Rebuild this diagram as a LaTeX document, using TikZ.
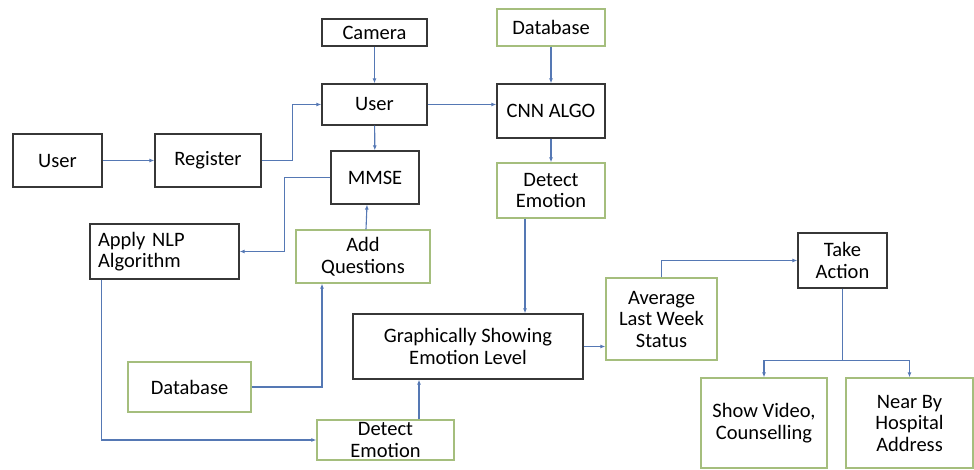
\documentclass[tikz,border=0pt]{standalone}
\usepackage{fontspec}
\setmainfont{Carlito}
\usetikzlibrary{arrows.meta}
\definecolor{boxblack}{RGB}{55,55,55}
\definecolor{boxgreen}{RGB}{165,190,125}
\definecolor{linkblue}{RGB}{85,120,180}

\begin{document}
\begin{tikzpicture}[x=1pt,y=1pt,yscale=-1,xscale=1,
  blk/.style={draw=boxblack,line width=1.3pt,align=center,inner sep=2pt,font=\fontsize{20.5}{21.5}\selectfont},
  grn/.style={blk,draw=boxgreen},
  link/.style={draw=linkblue,line width=1.1pt},
  arr/.style={link,-{Latex[length=5pt,width=4pt]}}]
\useasboundingbox (0,0) rectangle (974,470);

% Boxes
\node [blk,minimum width=89,minimum height=53] (user) at (57.5,160.5) {User};
\node [blk,minimum width=106,minimum height=53] (reg) at (208,160.5) {Register};
\node [blk,minimum width=105,minimum height=27] (cam) at (374.5,32.5) {Camera};
\node [blk,minimum width=105,minimum height=41] (user2) at (374.5,104.5) {User};
\node [blk,minimum width=88,minimum height=53] (mmse) at (375,177.5) {MMSE};
\node [grn,minimum width=108,minimum height=37] (db1) at (551,27.5) {Database};
\node [blk,minimum width=108,minimum height=54] (cnn) at (551,111) {CNN ALGO};
\node [grn,minimum width=108,minimum height=55] (det1) at (551,190.5) {Detect\\Emotion};
\node [blk,minimum width=149,minimum height=55,text width=133,align=left,inner sep=8pt] (nlp) at (164.5,251.5) {Apply NLP\\Algorithm};
\node [grn,minimum width=134,minimum height=53] (aq) at (363,256.5) {Add\\Questions};
\node [grn,minimum width=123,minimum height=50] (db2) at (189.5,387) {Database};
\node [blk,minimum width=230,minimum height=65] (graph) at (468,346.5) {Graphically Showing\\Emotion Level};
\node [grn,minimum width=137,minimum height=40,inner sep=0pt] (det2) at (385.5,440) {Detect\\Emotion};
\node [grn,minimum width=111,minimum height=82] (avg) at (661.5,319) {Average\\Last Week\\Status};
\node [blk,minimum width=89,minimum height=55] (take) at (842.5,260.5) {Take\\Action};
\node [grn,minimum width=126,minimum height=90] (video) at (764,423) {Show Video,\\Counselling};
\node [grn,minimum width=127,minimum height=90] (hosp) at (909.5,423) {Near By\\Hospital\\Address};

% Connectors
\draw [arr] (user) -- (reg);
\draw [arr] (reg.east) -- ++(31,0) |- (user2.west);
\draw [arr] (cam) -- (user2);
\draw [arr] (user2) -- (mmse);
\draw [arr] (user2.east) -- (user2.east -| cnn.west);
\draw [arr] (db1) -- (cnn);
\draw [arr] (cnn) -- (det1);
\draw [arr] (mmse.west) -- ++(-46,0) |- (nlp.east);
\draw [arr] ([xshift=3pt]aq.north) -- ([xshift=-8pt]mmse.south);
\draw [arr] (db2.east) -| ([xshift=-41pt]aq.south);
\draw [arr] ([xshift=-63pt]nlp.south) |- (det2.west);
\draw [arr] ([xshift=33.5pt]det2.north) -- ([xshift=-49pt]graph.south);
\draw [arr] ([xshift=-26pt]det1.south) -- ([xshift=57pt]graph.north);
\draw [arr] (graph.east) -- (graph.east -| avg.west);
\draw [arr] (avg.north) |- (take.west);
\draw [link] (take.south) -- ++(0,72) coordinate (split);
\draw [arr] (split) -| (video.north);
\draw [arr] (split) -| (hosp.north);

\end{tikzpicture}
\end{document}
